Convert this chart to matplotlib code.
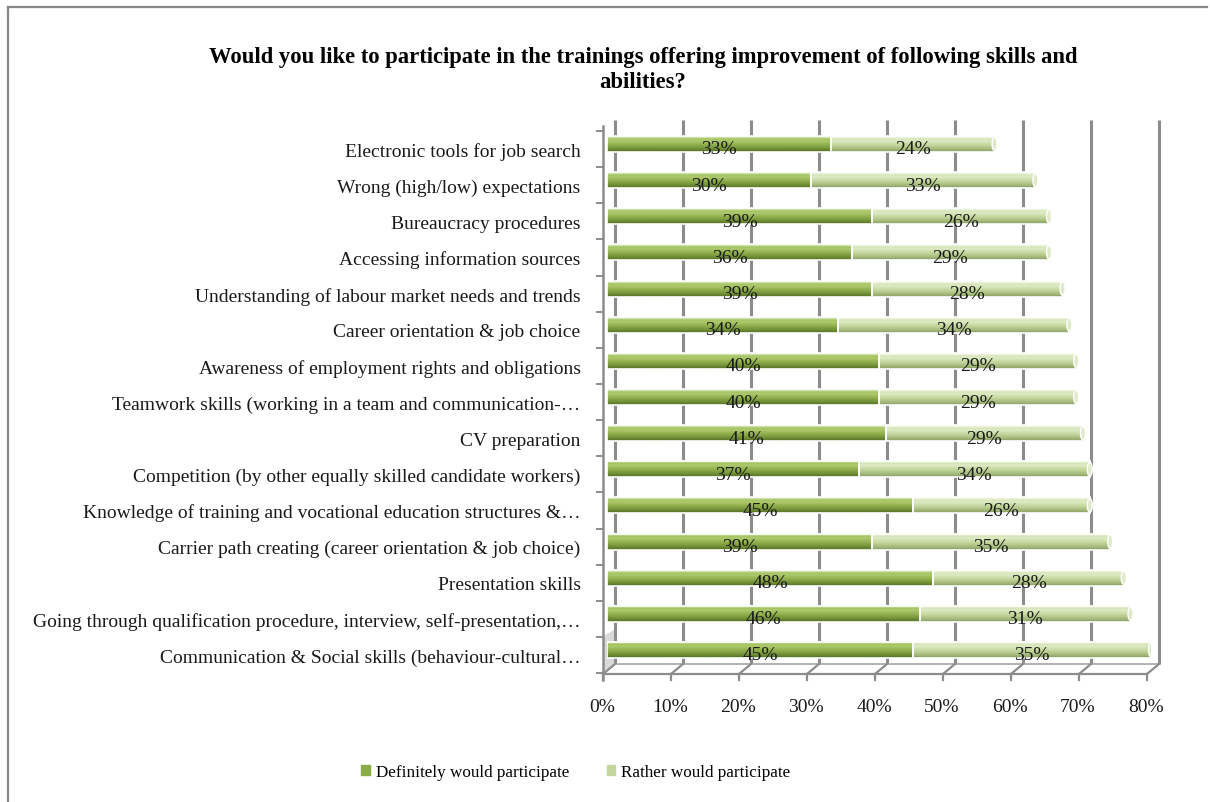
import matplotlib
matplotlib.use("Agg")
import matplotlib.pyplot as plt
import numpy as np
from matplotlib.colors import to_rgb
from matplotlib.lines import Line2D
from matplotlib.patches import Ellipse, Patch, Rectangle
from matplotlib.transforms import ScaledTranslation

plt.rcParams["font.family"] = ["Liberation Serif", "DejaVu Serif"]

skills = [
    "Electronic tools for job search",
    "Wrong (high/low) expectations",
    "Bureaucracy procedures",
    "Accessing information sources",
    "Understanding of labour market needs and trends",
    "Career orientation & job choice",
    "Awareness of employment rights and obligations",
    "Teamwork skills (working in a team and communication-\u2026",
    "CV preparation",
    "Competition (by other equally skilled candidate workers)",
    "Knowledge of training and vocational education structures &\u2026",
    "Carrier path creating (career orientation & job choice)",
    "Presentation skills",
    "Going through qualification procedure, interview, self-presentation,\u2026",
    "Communication & Social skills (behaviour-cultural\u2026",
]
definitely = [33, 30, 39, 36, 39, 34, 40, 40, 41, 37, 45, 39, 48, 46, 45]
rather = [24, 33, 26, 29, 28, 34, 29, 29, 29, 34, 26, 35, 28, 31, 35]
series_names = ["Definitely would participate", "Rather would participate"]
x_ticks = list(range(0, 81, 10))

# cylinder shading, top to bottom
DARK_SHADE = ["#dbe8bf", "#a6c463", "#adc96c", "#9dbb5a", "#8eae4c", "#7f9e41", "#6e8c35", "#5b7629"]
LIGHT_SHADE = ["#f4f8ea", "#d7e6b9", "#dde9c4", "#d0e0ae", "#c3d69d", "#b5c98d", "#a4b97c", "#8fa468"]
DARK_FLAT = "#8aab47"
LIGHT_FLAT = "#c3d69b"
GRID = "#8c8c8c"
TEXT = "#1a1a1a"
FS = 14

W, H = 1210, 803
fig = plt.figure(figsize=(W / 100, H / 100), dpi=100)

# plot frame in pixels: bar origin at x=607, 80% at x=1151; rows from y=145 to y=651
X0, X80 = 607, 1151
ROW0, ROW14 = 145, 651
TOP, FLOOR = 125, 670
px_x = (X80 - X0) / 80.0
px_y = (ROW14 - ROW0) / 14.0
ax = fig.add_axes([X0 / W, (H - FLOOR) / H, (X80 - X0) / W, (FLOOR - TOP) / H])
y_bot = 14 + (FLOOR - ROW14) / px_y
y_top = -(ROW0 - TOP) / px_y

# depth offsets (data units) for the front edge and the back wall
fdx, fdy = -4 / px_x, 5 / px_y
bdx, bdy = 8 / px_x, -5 / px_y


def shade(colors):
    return np.array([to_rgb(c) for c in colors]).reshape(-1, 1, 3)


bar_h = 16 / px_y
for i, (d, r) in enumerate(zip(definitely, rather)):
    segs = [(0, d, DARK_SHADE, DARK_FLAT), (d, d + r, LIGHT_SHADE, LIGHT_FLAT)]
    for x0, x1, cols, flat in segs:
        ax.imshow(shade(cols), extent=(x0, x1, i + bar_h / 2, i - bar_h / 2),
                  aspect="auto", interpolation="bilinear", zorder=3)
        ax.add_patch(Rectangle((x0, i - bar_h / 2), x1 - x0, bar_h, fill=False,
                               ec="white", lw=1.2, zorder=4))
    ax.add_patch(Ellipse((d + r, i), 5 / px_x, bar_h * 0.85, fc="#dfeac8",
                         ec="white", lw=1, zorder=5))
    ax.add_patch(Ellipse((0, i), 5 / px_x, bar_h * 0.9, fc="#a9c567",
                         ec="white", lw=1, zorder=2))
    for x0, v in [(0, d), (d, r)]:
        t = ax.text(x0 + v / 2, i, f"{v}%", ha="center", va="center",
                    fontsize=FS, color=TEXT, zorder=6)
        t.set_transform(t.get_transform() + ScaledTranslation(0, -5 / 100, fig.dpi_scale_trans))

# back wall grid
for t in x_ticks:
    ax.plot([t + bdx, t + bdx], [y_bot + bdy, y_top - 0.1], color=GRID, lw=2.2,
            zorder=1, clip_on=False, solid_capstyle="butt")
# floor: back edge, front edge and depth lines
ax.plot([bdx, 80 + bdx], [y_bot + bdy] * 2, color="#a6a6a6", lw=1.2, zorder=1, clip_on=False)
ax.plot([fdx, 80 + fdx], [y_bot + fdy] * 2, color=GRID, lw=1.6, zorder=1, clip_on=False)
for t in x_ticks:
    ax.plot([t + fdx, t + bdx], [y_bot + fdy, y_bot + bdy], color=GRID, lw=1.6,
            zorder=1, clip_on=False)
    ax.plot([t + fdx, t + fdx], [y_bot + fdy, y_bot + fdy + 6 / px_y], color=GRID,
            lw=1.6, zorder=1, clip_on=False)
# left wall
ax.plot([fdx, fdx], [y_top + 2 / px_y, y_bot + fdy + 6 / px_y], color=GRID, lw=1.8,
        zorder=1, clip_on=False)
for k in range(16):
    yb = k - 0.5 + fdy
    ax.plot([fdx - 6 / px_x, fdx], [yb, yb], color=GRID, lw=1.4, zorder=1, clip_on=False)
ax.fill([fdx, bdx, bdx, fdx], [y_bot + fdy, y_bot + bdy, y_bot - 1.1, y_bot - 0.9],
        color="#d9d9d9", lw=0, zorder=0, clip_on=False)

ax.set_xlim(0, 80)
ax.set_ylim(y_bot, y_top)
ax.set_xticks(x_ticks, [f"{t}%" for t in x_ticks])
ax.set_yticks(range(len(skills)), skills)
ax.tick_params(axis="x", length=0, pad=21, labelsize=FS, colors=TEXT)
ax.tick_params(axis="y", length=0, pad=19, labelsize=FS, colors=TEXT)
for lbl in ax.get_xticklabels():
    lbl.set_transform(lbl.get_transform() + ScaledTranslation(-5 / 100, 0, fig.dpi_scale_trans))
for lbl in ax.get_yticklabels():
    lbl.set_transform(lbl.get_transform() + ScaledTranslation(0, -5 / 100, fig.dpi_scale_trans))
for s in ax.spines.values():
    s.set_visible(False)

fig.text(643 / W, 1 - 70 / H,
         "Would you like to participate in the trainings offering improvement of following skills and\nabilities?",
         ha="center", va="center", fontsize=16.3, fontweight="bold", linespacing=1.25)

handles = [Patch(color=DARK_FLAT), Patch(color=LIGHT_FLAT)]
fig.legend(handles, series_names, loc="center", bbox_to_anchor=(576 / W, 1 - 773 / H),
           ncol=2, frameon=False, fontsize=12.3, handlelength=0.5, handleheight=0.5,
           handletextpad=0.35, columnspacing=2.2)

# chart border
fig.add_artist(Line2D([8 / W, 8 / W], [0, 1 - 8 / H], transform=fig.transFigure,
                      color="#878787", lw=1.6))
fig.add_artist(Line2D([8 / W, 1207 / W], [1 - 8 / H, 1 - 8 / H], transform=fig.transFigure,
                      color="#878787", lw=1.6))

fig.savefig("out.png", dpi=100)
